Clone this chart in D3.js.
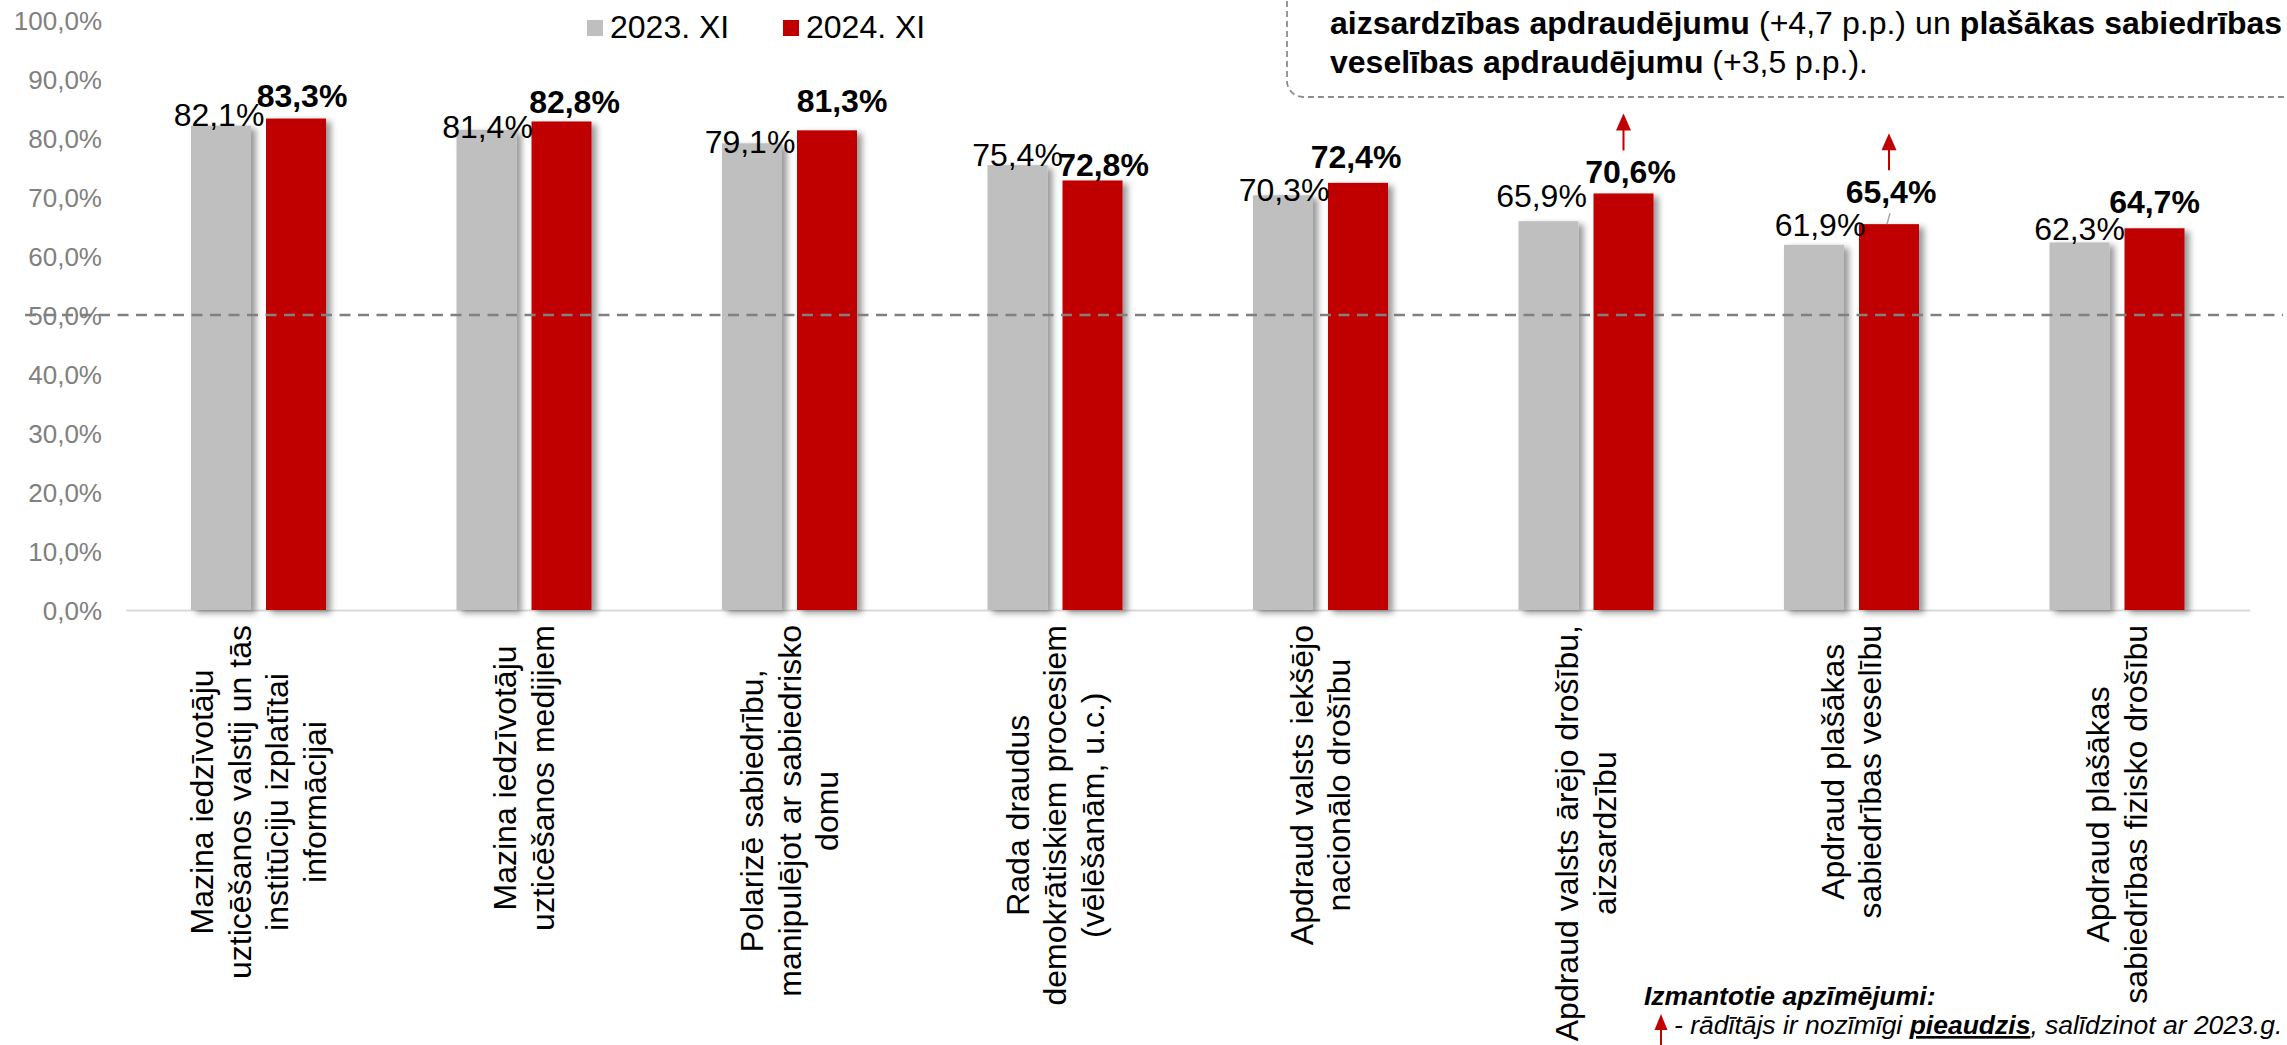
<!DOCTYPE html>
<html><head><meta charset="utf-8">
<script src="https://cdn.jsdelivr.net/npm/d3@7"></script>
<style>
html,body{margin:0;padding:0;background:#fff;overflow:hidden;}
svg{display:block;font-family:"Liberation Sans",Arial,Helvetica,sans-serif;}
</style></head>
<body><svg id="chart" width="2287" height="1045"></svg>
<script>
// ---------- DATA ----------
const categories = [
  "Mazina iedzīvotāju|uzticēšanos valstij un tās|institūciju izplatītai|informācijai",
  "Mazina iedzīvotāju|uzticēšanos medijiem",
  "Polarizē sabiedrību,|manipulējot ar sabiedrisko|domu",
  "Rada draudus|demokrātiskiem procesiem|(vēlēšanām, u.c.)",
  "Apdraud valsts iekšējo|nacionālo drošību",
  "Apdraud valsts ārējo drošību,|aizsardzību",
  "Apdraud plašākas|sabiedrības veselību",
  "Apdraud plašākas|sabiedrības fizisko drošību"
];
const seriesNames = ["2023. XI", "2024. XI"];
const values2023 = [82.1, 81.4, 79.1, 75.4, 70.3, 65.9, 61.9, 62.3];
const values2024 = [83.3, 82.8, 81.3, 72.8, 72.4, 70.6, 65.4, 64.7];
const significantIncrease = [false, false, false, false, false, true, true, false];
const yTicks = [0, 10, 20, 30, 40, 50, 60, 70, 80, 90, 100];
const referenceValue = 50;
const boxLine2 = [["aizsardzības apdraudējumu", true], [" (+4,7 p.p.) un ", false], ["plašākas sabiedrības", true]];
const boxLine3 = [["veselības apdraudējumu", true], [" (+3,5 p.p.).", false]];
const noteTitle = "Izmantotie apzīmējumi:";
const noteParts = [["- rādītājs ir nozīmīgi ", false, false], ["pieaudzis", true, true], [", salīdzinot ar 2023.g.", false, false]];

// ---------- LAYOUT (label nudges, not data) ----------
const nudge2023 = [[-2,0],[1,8],[-2,10],[0,1],[1,6],[-7,-14],[6,-9],[0,-2]];
const nudge2024 = [[6,-12],[13,-8],[15,-18],[11,-4],[-2,-15],[7,-10],[2,-21],[0,-15]];
const leader2024 = [false,false,false,false,false,false,true,false];

const colors = {"2023. XI": "#BFBFBF", "2024. XI": "#C00000"};
const svg = d3.select("#chart");

const y = d3.scaleLinear().domain([0, 100]).range([610, 20]);
const x0 = d3.scaleBand().domain(d3.range(categories.length)).range([125.75, 2249.75]).padding(0);
const x1 = d3.scaleBand().domain(seriesNames).range([-67.5, 67.5]).paddingInner(0.2);
const cx = i => x0(i) + x0.bandwidth() / 2;

// shadow filter
const defs = svg.append("defs");
const f = defs.append("filter").attr("id", "shadow").attr("x", "-20%").attr("y", "-5%").attr("width", "150%").attr("height", "115%");
f.append("feDropShadow").attr("dx", 5).attr("dy", 3).attr("stdDeviation", 3)
  .attr("flood-color", "#000").attr("flood-opacity", 0.4);

// Y axis
const yAxis = svg.append("g").attr("transform", "translate(102,0)")
  .call(d3.axisLeft(y).tickValues(yTicks).tickSize(0).tickPadding(0)
    .tickFormat(d => d3.format(".1f")(d).replace(".", ",") + "%"));
yAxis.select(".domain").remove();
yAxis.selectAll("text").attr("fill", "#808080").attr("font-size", 26)
  .attr("font-family", "'Liberation Sans', Arial, sans-serif").attr("dy", "0.36em");

// X axis line
const xAxis = svg.append("g").attr("transform", "translate(0,610)")
  .call(d3.axisBottom(x0).tickSize(0).tickSizeOuter(0).tickFormat(""));
xAxis.select(".domain").attr("stroke", "#D9D9D9").attr("stroke-width", 2);

// bars
const rows = categories.map((c, i) => ({i, vals: [values2023[i], values2024[i]]}));
const groups = svg.append("g").selectAll("g").data(rows).join("g");
groups.selectAll("rect").data(d => seriesNames.map((s, k) => ({i: d.i, s, v: d.vals[k]})))
  .join("rect")
  .attr("x", d => cx(d.i) + x1(d.s))
  .attr("width", x1.bandwidth())
  .attr("y", d => y(d.v))
  .attr("height", d => y(0) - y(d.v))
  .attr("fill", d => colors[d.s])
  .attr("filter", "url(#shadow)");

// reference dashed line
svg.append("line").attr("x1", 25).attr("x2", 2283)
  .attr("y1", y(referenceValue)).attr("y2", y(referenceValue))
  .attr("stroke", "#808080").attr("stroke-width", 2.5).attr("stroke-dasharray", "11,7.5");

// data labels
const fmt = v => d3.format(".1f")(v).replace(".", ",") + "%";
const labG = svg.append("g").attr("font-size", 32).attr("text-anchor", "middle").attr("fill", "#000");
values2023.forEach((v, i) => {
  labG.append("text").attr("x", cx(i) + x1(seriesNames[0]) + x1.bandwidth() / 2 + nudge2023[i][0])
    .attr("y", y(v) + nudge2023[i][1]).text(fmt(v));
});
values2024.forEach((v, i) => {
  const lx = cx(i) + x1(seriesNames[1]) + x1.bandwidth() / 2 + nudge2024[i][0];
  const ly = y(v) + nudge2024[i][1];
  labG.append("text").attr("x", lx).attr("y", ly).attr("font-weight", "bold").text(fmt(v));
  if (leader2024[i]) {
    svg.append("line").attr("x1", lx - 1).attr("y1", ly + 10).attr("x2", cx(i) + x1(seriesNames[1]) + x1.bandwidth() / 2 - 2)
      .attr("y2", y(v)).attr("stroke", "#A6A6A6").attr("stroke-width", 1.5);
  }
  if (significantIncrease[i]) {
    const ax = cx(i) + x1(seriesNames[1]) + x1.bandwidth() / 2;
    const bottom = ly - 33;
    svg.append("line").attr("x1", ax).attr("x2", ax).attr("y1", bottom).attr("y2", bottom - 22)
      .attr("stroke", "#C00000").attr("stroke-width", 2);
    svg.append("path").attr("d", `M${ax - 7.5},${bottom - 20} L${ax + 7.5},${bottom - 20} L${ax},${bottom - 37} Z`)
      .attr("fill", "#C00000");
  }
});

// category labels (rotated)
const catG = svg.append("g").attr("font-size", 32).attr("fill", "#000");
categories.forEach((c, i) => {
  const lines = c.split("|");
  const g = catG.append("g");
  const texts = lines.map((ln, k) => g.append("text").attr("text-anchor", "middle")
    .attr("y", (k - (lines.length - 1) / 2) * 37.5).attr("dy", "0.35em").text(ln));
  const maxLen = d3.max(texts, t => t.node().getComputedTextLength());
  texts.forEach(t => t.attr("x", -maxLen / 2));
  g.attr("transform", `translate(${cx(i)},625) rotate(-90)`);
});

// legend
const legG = svg.append("g").attr("font-size", 32);
const legX = [587, 783];
seriesNames.forEach((s, k) => {
  legG.append("rect").attr("x", legX[k]).attr("y", 20).attr("width", 16).attr("height", 16).attr("fill", colors[s]);
  legG.append("text").attr("x", legX[k] + 23).attr("y", 38).text(s);
});

// top-right text box
svg.append("rect").attr("x", 1287).attr("y", -200).attr("width", 1200).attr("height", 297)
  .attr("rx", 16).attr("fill", "none").attr("stroke", "#8C8C8C").attr("stroke-width", 1.8)
  .attr("stroke-dasharray", "6,4");
function richLine(parts, xPos, yPos, size, target) {
  const t = svg.append("text").attr("x", xPos).attr("y", yPos).attr("font-size", size);
  parts.forEach(p => t.append("tspan").attr("font-weight", p[1] ? "bold" : "normal").text(p[0]));
  if (target) {
    const len = t.node().getComputedTextLength();
    const spaces = parts.map(p => p[0]).join("").split(" ").length - 1;
    t.attr("word-spacing", (target - len) / spaces);
  }
  return t;
}
richLine(boxLine2, 1330, 34, 32, 952);
richLine(boxLine3, 1330, 73, 32, null);

// bottom-right note
svg.append("text").attr("x", 1644).attr("y", 1005).attr("font-size", 26.5)
  .attr("font-weight", "bold").attr("font-style", "italic").text(noteTitle);
const nt = svg.append("text").attr("x", 1674).attr("y", 1034).attr("font-size", 26.5).attr("font-style", "italic");
noteParts.forEach(p => nt.append("tspan").attr("font-weight", p[1] ? "bold" : "normal")
  .attr("text-decoration", p[2] ? "underline" : null).text(p[0]));
svg.append("line").attr("x1", 1661).attr("x2", 1661).attr("y1", 1028).attr("y2", 1045)
  .attr("stroke", "#C00000").attr("stroke-width", 2);
svg.append("path").attr("d", "M1654.5,1030 L1667.5,1030 L1661,1014 Z").attr("fill", "#C00000");
</script>
</body></html>
